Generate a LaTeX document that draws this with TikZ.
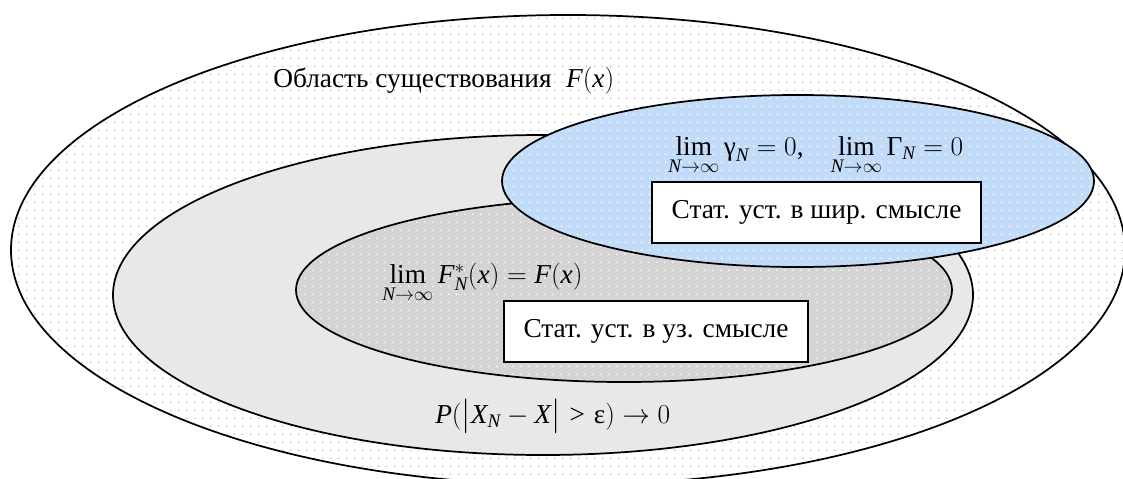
\RequirePackage{fix-cm}
\documentclass[tikz,border=0pt]{standalone}
\usepackage{amsmath}
\usepackage{fontspec}
\setmainfont{Liberation Serif}
\DeclareSymbolFont{letters}{TU}{\rmdefault}{m}{it}
\usetikzlibrary{patterns.meta}
\definecolor{midgray}{HTML}{E8E8E8}
\definecolor{hatchgray}{HTML}{D4D4D4}
\definecolor{weakblue}{HTML}{C2DBF8}
\definecolor{dotgray}{HTML}{C4C4C4}
\tikzdeclarepattern{
  name=sparsedots,
  tile size={(5.8pt,5.8pt)},
  bounding box={(0pt,0pt) and (5.8pt,5.8pt)},
  code={\fill (2.9pt,2.9pt) circle (0.6pt);}
}

\begin{document}
\begin{tikzpicture}[x=0.75pt,y=-0.75pt,
  region/.style={draw=black,line width=1.3pt},
  txt/.style={inner sep=0pt,font=\fontsize{20.5}{24}\selectfont},
  box/.style={draw=black,line width=0.9pt,fill=white,minimum height=45.75pt,font=\fontsize{20.5}{24}\selectfont}]
  \useasboundingbox (0,0) rectangle (1123,478);
  \clip (0,0) rectangle (1123,478);
  \draw[region,preaction={fill=white},pattern=sparsedots,pattern color=dotgray] (568,250) ellipse (557 and 235);
  \draw[region,fill=midgray] (543,295) ellipse (430 and 160);
  \draw[region,preaction={fill=hatchgray},pattern=sparsedots,pattern color=white] (624,290) ellipse (328 and 92);
  \draw[region,preaction={fill=weakblue},pattern=sparsedots,pattern color=white] (798,181) ellipse (296 and 86);
  \node[txt,anchor=base west] (outerLabel) at (273,88) {Область существования\; $F(x)$};
  \node[txt,anchor=base west] (wideLim) at (668,155) {$\lim\limits_{N\to\infty}\text{γ}_N=0$,\quad $\lim\limits_{N\to\infty}\text{Γ}_N=0$};
  \node[box,minimum width=246.75pt] (wideBox) at (816.5,212.5) {Стат. уст. в шир. смысле};
  \node[txt,anchor=base west] (narrowLim) at (382,283) {$\lim\limits_{N\to\infty}F^{*}_N(x)=F(x)$};
  \node[box,minimum width=228pt] (narrowBox) at (656,331.5) {Стат. уст. в уз. смысле};
  \node[txt,anchor=base west] (probLabel) at (435,423) {$P(\bigl|X_N-X\bigr|>\text{ε})\to0$};
\end{tikzpicture}
\end{document}
